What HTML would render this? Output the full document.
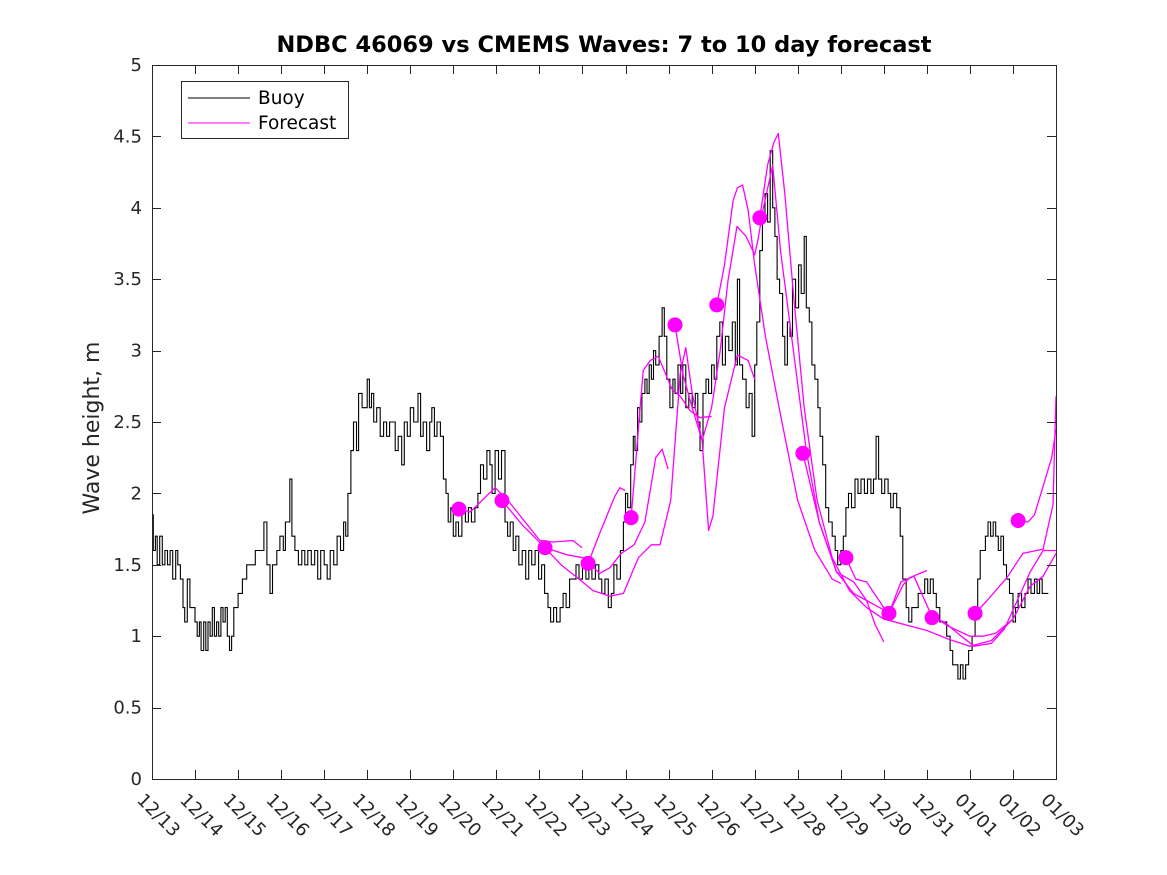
<!DOCTYPE html>
<html><head><meta charset="utf-8"><style>
html,body{margin:0;padding:0;background:#fff;}
svg{display:block;font-family:"DejaVu Sans","Liberation Sans",sans-serif;}
</style></head><body>
<svg id="chart" width="1167" height="875" viewBox="0 0 1167 875" xmlns="http://www.w3.org/2000/svg">
<rect width="1167" height="875" fill="#fff"/>
<text x="604" y="52" text-anchor="middle" font-size="22.5" font-weight="bold" fill="#000">NDBC 46069 vs CMEMS Waves: 7 to 10 day forecast</text>
<text transform="translate(99,428) rotate(-90)" text-anchor="middle" font-size="22" fill="#262626">Wave height, m</text>
<g id="plot"></g>
<g id="axes"></g>
<g>
<rect x="181.5" y="81.5" width="167" height="57" fill="#fff" stroke="#262626" stroke-width="1"/>
<line x1="188" y1="98" x2="250" y2="98" stroke="#000" stroke-width="1"/>
<text x="258" y="104" font-size="18.5" fill="#000">Buoy</text>
<line x1="188" y1="123" x2="250" y2="123" stroke="#ff00ff" stroke-width="1"/>
<text x="258" y="129" font-size="18.5" fill="#000">Forecast</text>
</g>
</svg>
<script>
const xTickLabels = ["12/13","12/14","12/15","12/16","12/17","12/18","12/19","12/20","12/21","12/22","12/23","12/24","12/25","12/26","12/27","12/28","12/29","12/30","12/31","01/01","01/02","01/03"];
const yTicks = [0,0.5,1,1.5,2,2.5,3,3.5,4,4.5,5];
const yTickLabels = ["0","0.5","1","1.5","2","2.5","3","3.5","4","4.5","5"];
const buoyDays = [0,0.03,0.08,0.12,0.18,0.24,0.3,0.36,0.42,0.48,0.55,0.6,0.66,0.72,0.76,0.82,0.88,0.95,1.0,1.05,1.1,1.14,1.2,1.25,1.3,1.35,1.4,1.45,1.5,1.55,1.6,1.65,1.7,1.75,1.8,1.85,1.9,2.0,2.1,2.2,2.3,2.4,2.5,2.6,2.67,2.74,2.8,2.9,2.97,3.05,3.1,3.2,3.25,3.32,3.4,3.48,3.55,3.62,3.7,3.78,3.85,3.92,4.0,4.07,4.14,4.22,4.3,4.38,4.45,4.5,4.55,4.62,4.68,4.75,4.8,4.88,5.0,5.05,5.1,5.15,5.22,5.3,5.38,5.45,5.52,5.6,5.65,5.72,5.8,5.86,5.93,6.0,6.08,6.18,6.24,6.3,6.38,6.45,6.5,6.56,6.62,6.7,6.77,6.83,6.88,6.94,7.0,7.06,7.12,7.2,7.28,7.35,7.42,7.5,7.57,7.63,7.7,7.78,7.85,7.9,7.97,8.05,8.12,8.2,8.26,8.32,8.39,8.45,8.52,8.6,8.68,8.75,8.82,8.9,8.98,9.05,9.12,9.2,9.26,9.33,9.4,9.48,9.55,9.62,9.7,9.78,9.85,9.92,10.0,10.08,10.15,10.22,10.3,10.38,10.45,10.52,10.6,10.67,10.73,10.8,10.88,10.95,11.0,11.05,11.12,11.18,11.22,11.28,11.33,11.38,11.45,11.5,11.55,11.6,11.65,11.7,11.78,11.85,11.9,11.96,12.03,12.1,12.15,12.22,12.28,12.33,12.4,12.47,12.55,12.62,12.68,12.73,12.8,12.87,12.93,13.0,13.06,13.12,13.19,13.25,13.32,13.4,13.48,13.55,13.6,13.65,13.72,13.8,13.87,13.94,14.0,14.05,14.12,14.18,14.24,14.3,14.36,14.42,14.47,14.52,14.58,14.65,14.7,14.76,14.82,14.88,14.95,15.02,15.08,15.15,15.2,15.27,15.33,15.4,15.47,15.52,15.58,15.65,15.72,15.8,15.87,15.93,16.0,16.06,16.12,16.18,16.25,16.33,16.4,16.47,16.55,16.62,16.7,16.76,16.82,16.88,16.95,17.02,17.1,17.16,17.22,17.3,17.38,17.44,17.52,17.58,17.65,17.72,17.8,17.88,17.95,18.02,18.08,18.15,18.22,18.3,18.38,18.46,18.54,18.6,18.66,18.72,18.78,18.84,18.9,18.97,19.05,19.12,19.18,19.24,19.3,19.36,19.42,19.48,19.54,19.6,19.66,19.72,19.78,19.85,19.92,20.0,20.06,20.12,20.2,20.28,20.35,20.42,20.5,20.56,20.62,20.68,20.75,20.82];
const buoyHs = [1.85,1.6,1.7,1.5,1.7,1.5,1.6,1.5,1.6,1.4,1.6,1.5,1.4,1.2,1.1,1.4,1.2,1.2,1.1,1.0,1.1,0.9,1.1,0.9,1.1,1.0,1.2,1.0,1.1,1.0,1.2,1.1,1.2,1.0,0.9,1.0,1.2,1.3,1.4,1.5,1.5,1.6,1.6,1.8,1.5,1.3,1.5,1.6,1.7,1.6,1.8,2.1,1.7,1.6,1.5,1.6,1.5,1.6,1.5,1.6,1.4,1.6,1.5,1.4,1.6,1.5,1.7,1.6,1.8,1.7,2.0,2.3,2.5,2.3,2.7,2.6,2.8,2.6,2.7,2.5,2.6,2.4,2.5,2.4,2.5,2.5,2.3,2.4,2.2,2.5,2.4,2.6,2.5,2.7,2.4,2.5,2.3,2.5,2.6,2.4,2.5,2.4,2.1,2.0,1.8,1.9,1.7,1.8,1.7,1.9,1.8,1.9,1.8,1.9,2.0,2.2,2.1,2.3,2.2,2.0,2.3,2.1,2.3,1.8,1.7,1.8,1.6,1.7,1.5,1.6,1.4,1.6,1.5,1.6,1.4,1.5,1.3,1.2,1.1,1.2,1.1,1.2,1.3,1.2,1.4,1.4,1.5,1.4,1.5,1.4,1.5,1.4,1.5,1.4,1.3,1.4,1.2,1.3,1.5,1.4,1.6,1.8,2.0,1.9,2.2,2.4,2.3,2.6,2.5,2.7,2.8,2.7,2.9,2.8,3.0,2.9,3.1,3.3,3.1,2.8,2.6,2.8,2.7,2.9,2.7,2.9,2.6,2.7,2.6,2.7,2.5,2.3,2.7,2.8,2.7,2.9,2.8,3.1,3.2,2.9,3.1,3.0,3.2,2.9,3.5,2.9,2.8,2.6,2.7,2.4,2.9,3.2,3.7,3.9,4.1,3.9,4.4,4.0,3.8,3.5,3.4,3.1,2.9,3.2,3.1,3.5,3.3,3.6,3.4,3.8,3.3,3.2,2.9,2.8,2.6,2.4,2.2,1.9,1.8,1.7,1.6,1.5,1.6,1.7,1.9,2.0,1.9,2.1,2.0,2.1,2.0,2.1,2.0,2.1,2.4,2.1,2.0,2.1,2.0,1.9,2.0,1.9,1.7,1.4,1.2,1.1,1.2,1.2,1.3,1.3,1.4,1.3,1.4,1.3,1.2,1.1,1.1,1.0,0.9,0.8,0.8,0.7,0.8,0.7,0.8,0.9,1.0,1.2,1.4,1.6,1.6,1.7,1.8,1.7,1.8,1.7,1.6,1.7,1.5,1.4,1.3,1.1,1.2,1.3,1.2,1.3,1.4,1.3,1.4,1.3,1.4,1.3,1.3,1.3];
const fcDays = [
 [7.13,7.39,7.97,8.27,9.01,9.31,9.78,9.99],
 [8.13,8.6,9.13,9.64,10.01,10.4,10.64,10.9,11.2,11.45,11.7,11.85,11.99],
 [9.13,9.5,10.0,10.24,10.64,10.95,11.3,11.6,11.8,12.05,12.27,12.4,12.55,12.78,12.93,13.03,13.3,13.6,13.85,14.0],
 [10.13,10.4,10.75,10.87,10.99],
 [11.13,11.41,11.57,11.76,12.08,12.27,12.5,12.73,13.0],
 [12.15,12.33,12.54,12.78,13.0,13.2,13.38,13.59,13.8,14.0,14.08,14.19,14.42,14.6,14.9,15.2,15.5,15.9,16.3,16.6,16.9,17.2],
 [13.12,13.3,13.5,13.6,13.72,13.85,14.0,14.25,14.6,15.0,15.4,15.8,16.0],
 [14.12,14.3,14.45,14.55,14.7,14.9,15.15,15.45,15.8,16.2,16.6,17.0,17.5,18.0,18.5,19.0,19.5,20.0,20.4,20.7,21.0],
 [15.12,15.5,15.9,16.3,16.6,16.8,17.0],
 [16.12,16.35,16.6,17.0,17.15,17.45,17.6,18.0],
 [17.12,17.4,17.7,18.1,18.5,19.0,19.3,19.6,20.0],
 [18.12,18.4,18.8,19.1,19.5,19.8,20.1,20.4,20.7,21.0],
 [19.12,19.4,19.86,20.23,20.7,20.93,21.0],
 [20.12,20.35,20.5,20.7,20.9,21.0]
];
const fcHs = [
 [1.89,1.87,2.04,1.95,1.67,1.66,1.67,1.62],
 [1.95,1.78,1.62,1.57,1.55,1.44,1.48,1.58,1.64,1.8,2.25,2.31,2.17],
 [1.62,1.5,1.38,1.32,1.28,1.3,1.55,1.64,1.64,1.95,2.84,3.02,2.7,2.37,1.74,1.84,2.6,2.97,2.93,2.8],
 [1.51,1.72,1.98,2.04,2.02],
 [1.83,2.86,2.93,2.96,2.73,2.68,2.58,2.53,2.54],
 [3.18,2.84,2.61,2.37,2.6,3.0,3.49,3.87,3.8,3.67,3.78,3.98,4.3,3.7,3.0,2.3,1.8,1.45,1.3,1.25,1.2,1.15],
 [3.32,3.6,4.05,4.14,4.16,3.98,3.6,3.1,2.55,1.95,1.6,1.4,1.37],
 [3.93,4.3,4.46,4.52,4.1,3.4,2.6,1.95,1.55,1.32,1.2,1.12,1.08,1.04,0.98,0.93,0.97,1.12,1.35,1.42,1.58],
 [2.28,1.8,1.45,1.38,1.25,1.08,0.96],
 [1.55,1.4,1.38,1.2,1.18,1.36,1.41,1.46],
 [1.16,1.38,1.42,1.15,1.07,1.0,1.0,1.02,1.12],
 [1.13,1.1,1.0,0.93,0.95,1.05,1.25,1.45,1.6,1.6],
 [1.16,1.25,1.41,1.58,1.61,1.92,2.68],
 [1.81,1.8,1.85,2.05,2.25,2.45]
];
const dotDays = [7.13,8.13,9.13,10.13,11.13,12.15,13.12,14.12,15.12,16.12,17.12,18.12,19.12,20.12];
const dotHs = [1.89,1.95,1.62,1.51,1.83,3.18,3.32,3.93,2.28,1.55,1.16,1.13,1.16,1.81];

const X0=152, X1=1056, Y0=779, Y1=65, NDAYS=21, YMAX=5;
function xs(d){return X0+(X1-X0)*d/NDAYS;}
function ys(v){return Y0-(Y0-Y1)*v/YMAX;}
const NS="http://www.w3.org/2000/svg";
const plot=document.getElementById('plot');
const axes=document.getElementById('axes');
function mk(tag,attrs,parent){const e=document.createElementNS(NS,tag);for(const k in attrs)e.setAttribute(k,attrs[k]);parent.appendChild(e);return e;}

// buoy line (stepped look of 0.1 m resolution data)
const bp=[];
buoyDays.forEach((d,i)=>{
 const x=xs(d), y=ys(buoyHs[i]);
 if(i>0){ bp.push(x.toFixed(1)+','+ys(buoyHs[i-1]).toFixed(1)); }
 bp.push(x.toFixed(1)+','+y.toFixed(1));
});
const bl=mk('polyline',{points:bp.join(' '),fill:'none',stroke:'#000','stroke-width':1.1},plot);



// forecast lines
fcDays.forEach((ds,j)=>{
 const p=ds.map((d,i)=>xs(d).toFixed(1)+','+ys(fcHs[j][i]).toFixed(1)).join(' ');
 const l=mk('polyline',{points:p,fill:'none',stroke:'#ff00ff','stroke-width':1.3,'stroke-linejoin':'round'},plot);
 
 
});
// dots
dotDays.forEach((d,i)=>{
 const c=mk('circle',{cx:xs(d),cy:ys(dotHs[i]),r:7.5,fill:'#ff00ff'},plot);
 
 
});

// axes box
const box=mk('rect',{x:X0+0.5,y:Y1+0.5,width:X1-X0,height:Y0-Y1,fill:'none',stroke:'#262626','stroke-width':1},axes);


// y ticks
yTicks.forEach((v,i)=>{
 const y=Math.round(ys(v))+0.5;
 const t1=mk('line',{x1:X0,y1:y,x2:X0+9,y2:y,stroke:'#262626'},axes);
 
 
 const t2=mk('line',{x1:X1-9,y1:y,x2:X1,y2:y,stroke:'#262626'},axes);
 
 
 const tx=mk('text',{x:X0-10,y:ys(v)+6,'text-anchor':'end','font-size':18,fill:'#262626'},axes);
 tx.textContent=yTickLabels[i];
 
 
});
// x ticks
xTickLabels.forEach((lab,i)=>{
 const x=Math.round(xs(i))+0.5;
 const t1=mk('line',{x1:x,y1:Y0,x2:x,y2:Y0-9,stroke:'#262626'},axes);
 
 
 const t2=mk('line',{x1:x,y1:Y1,x2:x,y2:Y1+9,stroke:'#262626'},axes);
 
 
 const tx=mk('text',{transform:'translate('+(xs(i)-16)+',801) rotate(45)','font-size':18,fill:'#262626'},axes);
 tx.textContent=lab;
 
 
});
</script>
</body></html>
